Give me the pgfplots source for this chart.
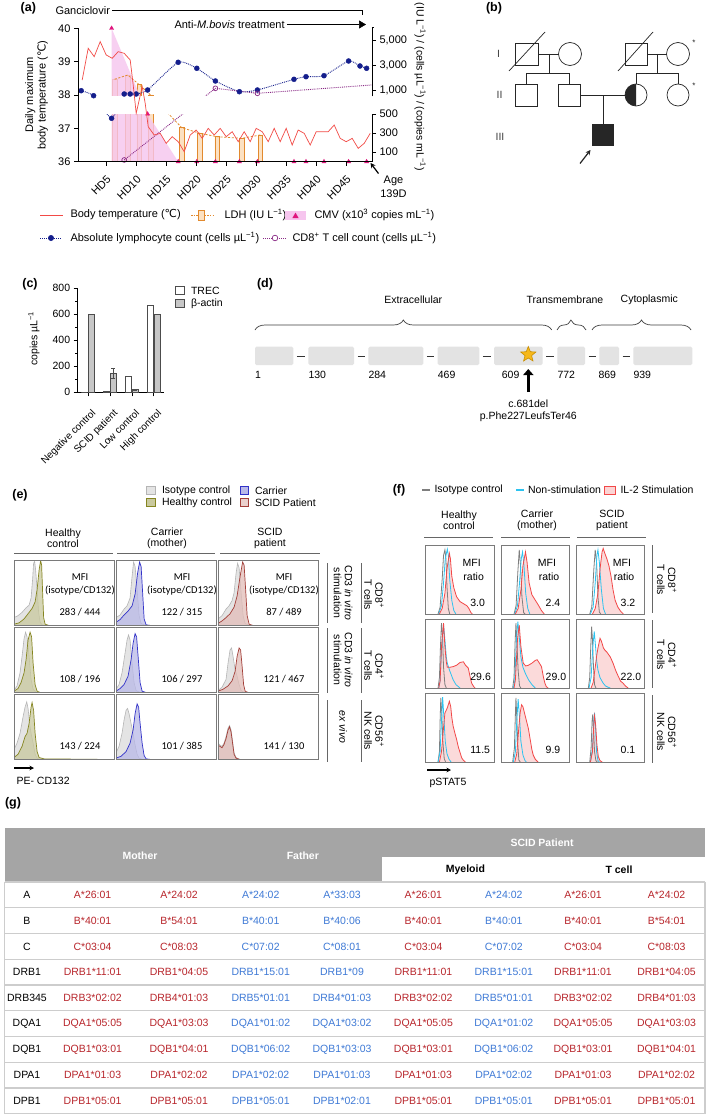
\documentclass[border=0pt]{standalone}
\usepackage{fontspec}
\setmainfont{Liberation Sans}
\newfontfamily\dejavu{DejaVu Sans}
\newfontfamily\carlito{Carlito}
\usepackage{pgfplots}
\pgfplotsset{compat=1.18}
\usetikzlibrary{decorations.pathreplacing,shapes.geometric,arrows.meta}

\definecolor{tempred}{HTML}{F24A46}
\definecolor{ldhor}{HTML}{E28A2E}
\definecolor{ldhfill}{HTML}{FCE1C2}
\definecolor{cmvpink}{HTML}{F6C5EE}
\definecolor{cmvmag}{HTML}{E0157E}
\definecolor{lymnavy}{HTML}{141E8C}
\definecolor{cdpurp}{HTML}{8A2A86}
\definecolor{isofill}{HTML}{E4E4E4}
\definecolor{isoline}{HTML}{B5B5B5}
\definecolor{olvfill}{HTML}{C9C99E}
\definecolor{olvline}{HTML}{858520}
\definecolor{carfill}{HTML}{B9B9E8}
\definecolor{carline}{HTML}{3232C8}
\definecolor{scfill}{HTML}{E2BDB8}
\definecolor{scline}{HTML}{A23E38}
\definecolor{fred}{HTML}{F24848}
\definecolor{fredfill}{HTML}{FBD4D4}
\definecolor{fcyan}{HTML}{2CC3F0}
\definecolor{fgray}{HTML}{7E7E7E}
\definecolor{boxgray}{HTML}{7A7A7A}
\definecolor{hdrgray}{HTML}{A5A5A5}
\definecolor{tred}{HTML}{B8262C}
\definecolor{tblue}{HTML}{3F7AD6}
\definecolor{rulegray}{HTML}{CDCDCD}
\definecolor{exon}{HTML}{E3E3E3}
\definecolor{stargold}{HTML}{F6B81A}
\definecolor{stardark}{HTML}{C98E00}

\newcommand\fA{\fontsize{11}{12.5}\selectfont}
\newcommand\fB{\fontsize{10.5}{11}\selectfont}
\newcommand\fT{\fontsize{10.5}{12}\selectfont}
\newcommand\fL{\bfseries\fontsize{12.5}{14}\selectfont}
\newcommand\fM{\carlito\fontsize{10.5}{12}\selectfont}
\newcommand\degC{{\dejavu ℃}}
\newcommand\inv{\textsuperscript{−1}}

\pgfplotsset{
  hbase/.style={anchor=north west, scale only axis, xmin=0, xmax=100, ymin=0, ymax=100,
     xtick=\empty, ytick=\empty, axis line style={draw=boxgray, line width=0.9pt}, axis on top, clip=true},
  ebox/.style={hbase, width=100.5pt, height=65.5pt},
  fbox/.style={hbase, width=68.6pt, height=69pt},
  isoE/.style={draw=isoline, fill=isofill, line width=0.6pt},
  hcE/.style={draw=olvline, fill=olvfill, fill opacity=0.75, line width=0.7pt},
  caE/.style={draw=carline, fill=carfill, fill opacity=0.75, line width=0.7pt},
  scE/.style={draw=scline, fill=scfill, fill opacity=0.75, line width=0.7pt},
}
\newcommand\ehist[5]{%
 \begin{axis}[ebox, at={(#1pt,-#2pt)}]
  \addplot[isoE] coordinates {#4} \closedcycle;
  \addplot[#3] coordinates {#5} \closedcycle;
 \end{axis}}
\newcommand\fhist[5]{%
 \begin{axis}[fbox, at={(#1pt,-#2pt)}]
  \addplot[draw=none, fill=fredfill, fill opacity=0.85] coordinates {#5} \closedcycle;
  \addplot[fgray, line width=0.8pt] coordinates {#3};
  \addplot[fcyan, line width=0.8pt] coordinates {#4};
  \addplot[fred, line width=0.8pt] coordinates {#5};
 \end{axis}}

\begin{document}
\begin{tikzpicture}
\useasboundingbox (0,0) rectangle (709pt,-1116pt);
\fill[white] (0,0) rectangle (709pt,-1116pt);

%================ (a) right axis =================
\begin{axis}[
  at={(78pt,-161.7pt)}, anchor=south west, scale only axis,
  width=294pt, height=133.4pt,
  xmin=0.3, xmax=49.3, ymin=0, ymax=133.4,
  axis x line=none, xtick=\empty,
  axis y line*=right, y axis line style={draw=none},
  ytick={9.54,28.62,47.7,71.7,96.7,121.7},
  yticklabels={100,300,500,{1,000},{3,000},{5,000}},
  tick align=outside, major tick length=4pt, tick style={black, line width=0.6pt},
  yticklabel style={font=\fA},
  y filter/.expression={y<=500 ? 0.0954*y : 59.2+0.0125*y},
  clip=false,
]
\addplot[ybar, bar width=4.6pt, draw=ldhor, fill=ldhfill, line width=0.6pt]
  coordinates {(6.4,1857) (8.6,2200) (10.5,1430) (12.4,600) (17.6,356) (20.6,298) (23.5,262) (27.6,245) (30.7,280)};
\addplot[draw=none, fill=cmvpink, fill opacity=0.8] coordinates {(5.9,5936) (11.9,500) (17,0)} \closedcycle;
\addplot[ldhor, line width=0.8pt, dash pattern=on 2.2pt off 1.6pt]
  coordinates {(6.4,1857) (8.6,2200) (10.5,1430) (12.4,600) (17.6,356) (20.6,298) (23.5,262) (27.6,245) (30.7,280)};
\addplot[lymnavy, line width=0.9pt, densely dotted, smooth, tension=0.35]
  coordinates {(0.83,944) (2.9,544) (5.9,455) (8,680) (9,680) (10,680) (11.9,1000) (17,3216) (20.1,2736) (23.2,1720) (27.2,864) (30.2,1000) (36.3,1856) (38.3,2064) (41.3,2144) (45.4,3320) (47.3,2920) (48.4,2736)};
\addplot[cdpurp, line width=0.9pt, densely dotted]
  coordinates {(8,18) (23.2,1136) (30.2,736) (49.2,1400)};
\fill[white] (rel axis cs:-0.003,0.3576) rectangle (rel axis cs:1,0.4906);
\addplot[only marks, mark=triangle*, mark size=2.4pt, cmvmag]
  coordinates {(5.9,5936) (11.9,500) (17,0) (20.1,0) (23.2,0) (27.2,0) (30.2,0) (36.3,0) (38.3,0) (41.3,0) (45.4,0) (48.4,0)};
\addplot[only marks, mark=*, mark size=2.5pt, lymnavy]
  coordinates {(0.83,944) (2.9,544) (5.9,455) (8,680) (9,680) (10,680) (11.9,1000) (17,3216) (20.1,2736) (23.2,1720) (27.2,864) (30.2,1000) (36.3,1856) (38.3,2064) (41.3,2144) (45.4,3320) (47.3,2920) (48.4,2736)};
\addplot[only marks, mark=o, mark size=2.4pt, cdpurp, mark options={fill=white, line width=0.7pt}]
  coordinates {(8,18) (23.2,1136) (30.2,736)};
\draw[black, line width=0.6pt] (rel axis cs:1,0) -- (rel axis cs:1,0.3576);
\draw[black, line width=0.6pt] (rel axis cs:1,0.4906) -- (rel axis cs:1,1.005) -- ++(4pt,0);
\end{axis}

%================ (a) left axis =================
\begin{axis}[
  at={(78pt,-161.7pt)}, anchor=south west, scale only axis,
  width=294pt, height=133.4pt,
  xmin=0.3, xmax=49.3, ymin=36, ymax=40,
  axis x line*=bottom, axis y line*=left,
  axis line style={line width=0.6pt},
  xtick={5,10,...,45},
  xticklabels={HD5,HD10,HD15,HD20,HD25,HD30,HD35,HD40,HD45},
  x tick label style={yshift=-9pt, rotate=45, anchor=north east, font=\fA, inner sep=0pt},
  ytick={36,37,38,39,40},
  yticklabel style={font=\fA},
  /pgf/number format/assume math mode=true,
  tick align=outside, major tick length=4pt, tick style={black, line width=0.6pt},
  clip=false,
]
\addplot[tempred, line width=0.7pt] coordinates {
 (1,38.45) (2,39.4) (3,39.15) (4,39.6) (5,39.2) (6,39.1) (7,39.3) (8,39.25) (9,39.05) (9.5,38.3)
 (10,37.45) (11,38.25) (11.5,37.75) (12,37.05) (13,36.8) (14,36.85) (15,36.55) (16,36.75) (17,36.6)
 (18,36.3) (19,36.8) (20,36.95) (21,36.7) (22,37.0) (23,36.8) (24,37.0) (25,36.75) (26,36.9)
 (27,36.6) (28,36.9) (29,36.6) (30,37.0) (31,36.9) (32,36.6) (33,37.0) (34,36.6) (35,37.0)
 (36,36.5) (37,36.95) (38,36.85) (39,36.5) (40,36.9) (41,36.9) (42,36.9) (43,37.1) (44,36.7)
 (45,36.6) (46,36.7) (47,36.4) (48,36.55) (49,36.85)};
\end{axis}

%================ (c) =================
\begin{axis}[
  at={(77.7pt,-392.3pt)}, anchor=south west, scale only axis,
  width=86.6pt, height=104pt,
  xmin=-0.47, xmax=3.48, ymin=0, ymax=800,
  axis x line*=bottom, axis y line*=left,
  axis line style={line width=0.6pt},
  ybar=0.8pt, bar width=6.3pt,
  xtick={0,1,2,3},
  xticklabels={Negative control,SCID patient,Low control,High control},
  x tick label style={xshift=3pt, yshift=-12pt, rotate=45, anchor=north east, font=\fontsize{10}{12}\selectfont, inner sep=0pt},
  ytick={0,200,400,600,800}, minor y tick num=1,
  yticklabel style={font=\fT},
  /pgf/number format/assume math mode=true,
  tick align=outside, major tick length=4pt, minor tick length=2.5pt,
  tick style={black, line width=0.6pt},
  clip=false,
]
\addplot[draw=black!70, fill=white, line width=0.6pt] coordinates {(0,0) (1,8) (2,120) (3,670)};
\addplot[draw=black!70, fill=black!22, line width=0.6pt,
  error bars/.cd, y dir=both, y explicit, error bar style={black!70, line width=0.6pt},
  error mark options={rotate=90, mark size=2pt, black!70}]
  coordinates {(0,600) +- (0,0) (1,145) +- (0,40) (2,20) +- (0,0) (3,600) +- (0,0)};
\end{axis}

%================ (e) histograms =================
\ehist{14}{560}{hcE}
 {(0,12) (4,15) (8,20) (12,27) (15,31) (17,42) (18.5,70) (19.5,95) (20.5,98) (21.5,85) (23,55) (24.5,20) (26,5) (28,1) (32,0) (100,0)}
 {(0,2) (5,4) (10,10) (14,18) (18,26) (21,36) (23,55) (25,85) (26.5,99) (27.5,92) (28.5,50) (29.5,12) (31,2) (35,0) (100,0)}
\ehist{116}{560}{caE}
 {(0,12) (4,16) (8,25) (11,30) (14,42) (16,75) (17.5,97) (19,90) (21,55) (23,15) (25,3) (30,0) (100,0)}
 {(0,5) (4,9) (8,16) (12,22) (16,30) (19,48) (21.5,80) (23.5,97) (25,90) (26.5,50) (28,10) (30,1) (35,0) (100,0)}
\ehist{218}{560}{scE}
 {(0,10) (4,15) (8,25) (11,30) (14,38) (16,50) (18,80) (19.5,95) (21,88) (23,50) (25,15) (27,3) (32,0) (100,0)}
 {(0,3) (4,7) (8,12) (12,18) (16,28) (19,45) (22,75) (24.5,97) (26,92) (27.5,55) (29,15) (31,2) (35,0) (100,0)}
\ehist{14}{627}{hcE}
 {(0,3) (3,10) (6,30) (8,55) (10,82) (11.5,92) (13,85) (15,55) (17,20) (19,5) (22,0) (100,0)}
 {(0,2) (4,6) (7,15) (10,30) (12,50) (14,80) (16,92) (17.5,85) (19,45) (21,12) (23,2) (26,0) (100,0)}
\ehist{116}{627}{caE}
 {(0,5) (3,12) (6,30) (9,60) (11,80) (12.5,88) (14,80) (16,45) (18,15) (20,3) (24,0) (100,0)}
 {(0,2) (4,6) (8,12) (12,25) (15,50) (17,75) (19,90) (20.5,85) (22,55) (24,15) (26,2) (30,0) (100,0)}
\ehist{218}{627}{scE}
 {(0,3) (4,8) (8,20) (10,45) (12,65) (13.5,68) (15,55) (17,35) (19,25) (21,12) (23,3) (26,0) (100,0)}
 {(0,2) (5,5) (10,10) (14,18) (17,32) (19,55) (21,68) (22.5,65) (24,40) (25.5,12) (27,2) (30,0) (100,0)}
\ehist{14}{694}{hcE}
 {(0,15) (3,25) (6,40) (9,65) (11,80) (12.7,88) (14,78) (15.5,55) (17,40) (19,25) (21,8) (23,2) (26,0) (100,0)}
 {(0,3) (4,8) (8,20) (11,35) (13,40) (15,55) (17,80) (18,87) (19.5,75) (21,40) (23,12) (25,3) (30,1) (100,0)}
\ehist{116}{694}{caE}
 {(0,10) (3,20) (6,40) (8,60) (10,75) (11.5,78) (13,70) (15,55) (17,40) (19,22) (21,8) (23,2) (27,0) (100,0)}
 {(0,2) (5,5) (10,12) (14,25) (17,45) (19,70) (21,85) (22.5,80) (24,55) (26,25) (28,6) (30,1) (35,0) (100,0)}
\ehist{218}{694}{scE}
 {(0,25) (2,22) (4,20) (6,25) (8,35) (10,48) (11.5,52) (13,45) (14.5,28) (16,10) (18,3) (22,0) (100,0)}
 {(0,22) (2,20) (4,18) (6,23) (8,32) (10,45) (11.5,50) (13,42) (14.5,25) (16,8) (18,2) (22,0) (100,0)}

%================ (f) histograms =================
\fhist{425.7}{545}
 {(18,0) (21,10) (24,50) (26,85) (28,93) (29.5,80) (31,40) (33,8) (35,0)}
 {(19,0) (23,12) (26,45) (28.5,80) (31.5,94) (33,85) (35,50) (38,20) (41,5) (44,0)}
 {(20,0) (24,8) (28,30) (31,65) (34.5,88) (36,80) (38,55) (41,38) (45,25) (50,18) (55,15) (60,12) (63,8) (66,2) (68,0)}
\fhist{501}{545}
 {(19,0) (22,12) (24.5,60) (26.6,93) (28.5,70) (30.5,25) (33,2) (35,0)}
 {(20,0) (24,12) (27,45) (29.5,80) (31.4,90) (33.5,70) (36,30) (39,8) (42,0)}
 {(21,0) (25,8) (29,35) (32,70) (35.7,90) (38,75) (41,45) (45,28) (50,20) (55,12) (59,5) (63,0)}
\fhist{576}{545}
 {(20,0) (23,10) (26,65) (28,93) (30,75) (32,25) (34,3) (36,0)}
 {(21,0) (25,10) (28,45) (30.5,85) (32,93) (34,75) (37,35) (40,8) (43,0)}
 {(24,0) (28,8) (32,30) (35,65) (38,90) (39.6,95) (42,88) (45,80) (48,70) (51,55) (54,35) (57,20) (61,10) (65,4) (69,0)}
\fhist{425.7}{619}
 {(18,0) (20,15) (21.5,60) (23,94) (24.5,75) (26,30) (28,5) (30,0)}
 {(19,0) (21,10) (23,55) (26,91) (28,70) (30,45) (31.5,36) (35,25) (40,12) (44,5) (47.6,2) (50,0)}
 {(19,0) (21,10) (23,60) (26,94) (28,60) (30,38) (31.5,30) (35,30) (40,31) (45,33) (50,37) (55,38) (58,33) (62,29) (65,15) (67,7) (70,2) (72,0)}
\fhist{501}{619}
 {(17,0) (19,15) (20.5,65) (21.8,94) (23,70) (25,25) (27,3) (29,0)}
 {(18,0) (20,10) (22.5,70) (24.6,96) (26.5,75) (29,45) (32,30) (36,20) (40,12) (45,5) (50,0)}
 {(19,0) (21,12) (24,70) (26.6,91) (29,60) (32.4,36) (36,32) (40,33) (45,36) (50,40) (52.7,41) (56,36) (59,31) (62,15) (64,7) (66,2) (68.6,0)}
\fhist{576}{619}
 {(18,0) (20,15) (21.5,60) (22.8,89) (24,70) (25.5,30) (27,5) (29,0)}
 {(19,0) (22,15) (24.5,60) (26.6,82) (28.5,60) (30,40) (32,26) (35,15) (39.6,7) (43,3) (47,1) (50,0)}
 {(22,0) (25,8) (28,30) (30,46) (32,58) (35,72) (37,68) (40,58) (42,55) (45,52) (50,45) (54,36) (58,25) (61.6,17) (65,10) (68.6,7) (72,3) (76,0)}
\fhist{425.7}{693}
 {(18,0) (20,15) (21,60) (22,93) (23.5,70) (25,30) (27,5) (29,0)}
 {(18,0) (21,15) (23,60) (24.7,94) (26.5,65) (28.5,30) (31,12) (34,4) (37,0)}
 {(20,0) (23,15) (26,50) (28,71) (30,75) (32,80) (34.5,88) (36.5,80) (38,65) (40,52) (42.5,42) (45,33) (47.5,22) (50,14) (52.5,6) (55,2.4) (58,0)}
\fhist{501}{693}
 {(17,0) (19.5,20) (21,70) (21.8,93) (23,65) (24.5,25) (26,3) (28,0)}
 {(18,0) (21,15) (23,60) (25,91) (27,65) (29,30) (32,10) (35,2) (37,0)}
 {(20,0) (23,12) (26,50) (28,72) (30,83) (32,80) (35,68) (38,56) (40,48) (43,30) (45,18) (47,10) (50,4) (52,2) (54,0)}
\fhist{576}{693}
 {(20,0) (22,20) (23.5,60) (24.4,69) (25.5,50) (27,15) (29,2) (31,0)}
 {(21,0) (24,20) (26,60) (27,71) (28.5,50) (30,15) (32,2) (34,0)}
 {(21,0) (24,15) (26,55) (27,67) (28.5,55) (30.5,25) (32.5,8) (35,2) (38,0)}

%================ annotations =================
\begin{scope}[x=1pt, y=-1pt]
% ---- (a)
\node[font=\fL] at (28.3,8.3) {(a)};
\node[anchor=west, font=\fA] at (52,10.5) {Ganciclovir};
\draw[line width=0.6pt] (112,10) -- (362.5,10) -- (362.5,15);
\node[anchor=west, font=\fA] at (171,24.5) {Anti-\textit{M.bovis} treatment};
\draw[line width=0.6pt, -{Triangle[length=7pt,width=8pt]}] (287,24.5) -- (366,24.5);
\node[rotate=90, align=center, font=\fA] at (36.5,95) {Daily maximum\\body temperature (\degC)};
\node[rotate=-90, font=\fT] at (420,86.7) {(IU L\inv) / (cells µL\inv) / (copies mL\inv)};
\node[align=center, font=\fontsize{11}{14}\selectfont] at (393.5,187) {Age\\139D};
\draw[line width=1.2pt, -{Stealth[length=5pt,width=5pt]}] (378.5,173.5) -- (370.5,163);
% legend (a)
\draw[tempred, line width=0.8pt] (40,215) -- (63,215);
\node[anchor=west, font=\fA] at (67,215) {Body temperature (\degC)};
\draw[ldhor, line width=0.8pt, dash pattern=on 1.5pt off 1.2pt] (191,215) -- (213,215);
\filldraw[draw=ldhor, fill=ldhfill, line width=0.7pt] (198,210.5) rectangle (204.5,220);
\node[anchor=west, font=\fA] at (221,215) {LDH (IU L\inv)};
\fill[cmvpink] (285,211) rectangle (306,220);
\fill[cmvmag] (292.3,218.2) -- (298.7,218.2) -- (295.5,212.6) -- cycle;
\node[anchor=west, font=\fA] at (311,215) {CMV (x10\textsuperscript{3} copies mL\inv)};
\draw[lymnavy, densely dotted, line width=1pt] (40,238) -- (62,238);
\fill[lymnavy] (51,238) circle[radius=3];
\node[anchor=west, font=\fA] at (67,238) {Absolute lymphocyte count (cells µL\inv)};
\draw[cdpurp, densely dotted, line width=1pt] (263,238) -- (287,238);
\filldraw[draw=cdpurp, fill=white, line width=0.7pt] (275,238) circle[radius=2.8];
\node[anchor=west, font=\fA] at (289,238) {CD8\textsuperscript{+} T cell count (cells µL\inv)};

% ---- (b) pedigree
\node[font=\fL] at (494,8) {(b)};
\begin{scope}[line width=0.7pt, black!85]
\node[font=\fB, black!75] at (498.5,53.5) {I};
\node[font=\fB, black!75] at (499.5,94.5) {II};
\node[font=\fB, black!75] at (500,136.5) {III};
\draw (515,43) rectangle (538,65);
\draw (509,71) -- (545,32);
\draw (570,54) circle[radius=11.5];
\draw (538,54) -- (558.5,54);
\draw (549,54) -- (549,73);
\draw (526,84) -- (526,73) -- (569,73) -- (569,84);
\draw (625,43) rectangle (647,65);
\draw (618,71) -- (653,32);
\draw (678,54) circle[radius=11.5];
\draw (647,54) -- (666.5,54);
\draw (657,54) -- (657,73);
\draw (636,84) -- (636,73) -- (678,73) -- (678,83.5);
\draw (515,84) rectangle (537,106);
\draw (558,84) rectangle (580,106);
\draw (580,95) -- (625,95);
\begin{scope}
\clip (620,80) rectangle (636,112);
\fill (636,95) circle[radius=11];
\end{scope}
\draw (636,95) circle[radius=11];
\draw (678,95) circle[radius=11];
\draw (603,95) -- (603,124);
\fill (592,124) rectangle (614,146);
\draw[line width=1.2pt, -{Stealth[length=5pt,width=5pt]}] (580,163.5) -- (590.5,150);
\node[font=\fontsize{8}{9}\selectfont] at (694,43) {*};
\node[font=\fontsize{8}{9}\selectfont] at (694,86) {*};
\end{scope}

% ---- (c)
\node[font=\fL] at (30,284) {(c)};
\node[rotate=90, font=\fT] at (34,338.5) {copies µL\inv};
\filldraw[fill=white, draw=black!70, line width=0.6pt] (175,286.3) rectangle (183.8,294.5);
\node[anchor=west, font=\fT] at (187.5,290.4) {TREC};
\filldraw[fill=black!22, draw=black!70, line width=0.6pt] (175,299.3) rectangle (183.8,307.5);
\node[anchor=west, font=\fT] at (187.5,303.4) {β-actin};

% ---- (d)
\node[font=\fL] at (265,284) {(d)};
\foreach \xa/\xb in {255/293.3, 308.3/354, 368.3/423.3, 437.7/479.3, 494/542.7, 557.3/585, 599.3/619, 633.3/692.3}
  \fill[exon, rounded corners=1.5pt] (\xa,346.7) rectangle (\xb,365);
\foreach \xa/\xb in {293.3/308.3, 354/368.3, 423.3/437.7, 479.3/494, 542.7/557.3, 585/599.3, 619/633.3}
  \draw[black!80, line width=0.7pt] (\xa+3.5,356) -- (\xb-3.5,356);
\foreach \xx/\lab in {255/1, 308.3/130, 368.3/284, 437.7/469, 501.7/609, 557.3/772, 598.3/869, 633.3/939}
  \node[anchor=west, font=\fT, inner sep=0pt] at (\xx,375) {\lab};
\draw[black!75, line width=0.7pt, decorate, decoration={brace, amplitude=10pt, aspect=0.5}] (255,330) -- (551.7,330);
\draw[black!75, line width=0.7pt, decorate, decoration={brace, amplitude=10pt, aspect=0.48}] (557,330) -- (586,330);
\draw[black!75, line width=0.7pt, decorate, decoration={brace, amplitude=10pt, aspect=0.5}] (592,330) -- (691,330);
\node[font=\fT] at (413.3,300) {Extracellular};
\node[font=\fT] at (565,300) {Transmembrane};
\node[font=\fT] at (649.3,300) {Cytoplasmic};
\node[star, star points=5, star point ratio=2.3, fill=stargold, draw=stardark, line width=0.6pt, minimum size=16pt, inner sep=0pt] at (528.3,354.5) {};
\draw[line width=3.2pt, -{Triangle[length=6pt,width=10pt]}] (528.3,392) -- (528.3,369);
\node[font=\fT] at (528.3,404) {c.681del};
\node[font=\fT] at (528.3,416.5) {p.Phe227LeufsTer46};

% ---- (e)
\node[font=\fL] at (20,495) {(e)};
\filldraw[fill=isofill, draw=isoline, line width=0.6pt] (146,486.5) rectangle (155,494.5);
\node[anchor=west, font=\fT] at (158.5,490.5) {Isotype control};
\filldraw[fill=carfill, draw=carline, line width=0.6pt] (240,486.5) rectangle (248.5,494.5);
\node[anchor=west, font=\fT] at (251.5,490.5) {Carrier};
\filldraw[fill=olvfill, draw=olvline, line width=0.6pt] (146,498.5) rectangle (155,506.5);
\node[anchor=west, font=\fT] at (158.5,502.5) {Healthy control};
\filldraw[fill=scfill!70, draw=scline, line width=0.6pt] (240,498.5) rectangle (248.5,506.5);
\node[anchor=west, font=\fT] at (251.5,502.5) {SCID Patient};
\node[align=center, font=\fB] at (63,538) {Healthy\\control};
\node[align=center, font=\fB] at (167,538) {Carrier\\(mother)};
\node[align=center, font=\fB] at (270,538) {SCID\\patient};
\draw[black!60, line width=0.9pt] (14,553) -- (113,553);
\draw[black!60, line width=0.9pt] (117,553) -- (215,553);
\draw[black!60, line width=0.9pt] (220,553) -- (320,553);
\foreach \bx/\pa/\pb/\pc/\pd/\pe/\pf in {14/283/444/108/196/143/224, 116/122/315/106/297/101/385, 218/87/489/121/467/141/130}{
  \node[font=\fM] at (\bx+66,577) {MFI};
  \node[font=\fM] at (\bx+66,590) {(isotype/CD132)};
  \node[font=\fM] at (\bx+66,612) {\pa{} / \pb};
  \node[font=\fM] at (\bx+66,679) {\pc{} / \pd};
  \node[font=\fM] at (\bx+66,746) {\pe{} / \pf};
}
\draw[black!60, line width=1pt] (327.3,563) -- (327.3,623);
\draw[black!60, line width=1pt] (327.3,628) -- (327.3,693);
\draw[black!60, line width=1pt] (327.3,700) -- (327.3,762);
\node[rotate=-90, align=center, font=\fB] at (343,593) {CD3 \textit{in vitro}\\stimulation};
\node[rotate=-90, align=center, font=\fB] at (343,660) {CD3 \textit{in vitro}\\stimulation};
\node[rotate=-90, font=\fB] at (343,727) {\textit{ex vivo}};
\draw[black!60, line width=1pt] (361.5,563) -- (361.5,623);
\draw[black!60, line width=1pt] (361.5,628) -- (361.5,693);
\draw[black!60, line width=1pt] (361.5,700) -- (361.5,762);
\node[rotate=-90, align=center, font=\fB] at (374,595) {CD8\textsuperscript{+}\\T cells};
\node[rotate=-90, align=center, font=\fB] at (374,666) {CD4\textsuperscript{+}\\T cells};
\node[rotate=-90, align=center, font=\fB] at (374,731) {CD56\textsuperscript{+}\\NK cells};
\draw[line width=1.3pt, -{Stealth[length=4.5pt,width=4.5pt]}] (14,768) -- (34,768);
\node[anchor=west, font=\fT] at (13,781) {PE- CD132};

% ---- (f)
\node[font=\fL] at (399,490) {(f)};
\draw[fgray, line width=2pt] (422,490) -- (430,490);
\node[anchor=west, font=\fT] at (431,490) {Isotype control};
\draw[fcyan, line width=2pt] (516,490) -- (523.5,490);
\node[anchor=west, font=\fT] at (524.5,490) {Non-stimulation};
\filldraw[fill=fredfill, draw=fred, line width=0.7pt] (604,486) rectangle (615.5,494);
\node[anchor=west, font=\fT] at (617,490) {IL-2 Stimulation};
\node[align=center, font=\fB] at (459,520.5) {Healthy\\control};
\node[align=center, font=\fB] at (537,520.5) {Carrier\\(mother)};
\node[align=center, font=\fB] at (612,520.5) {SCID\\patient};
\draw[black!60, line width=0.9pt] (424,537.7) -- (493,537.7);
\draw[black!60, line width=0.9pt] (501,537.7) -- (570,537.7);
\draw[black!60, line width=0.9pt] (577,537.7) -- (646,537.7);
\foreach \bx/\va/\vb/\vc in {425.7/3.0/29.6/11.5, 501/2.4/29.0/9.9, 576/3.2/22.0/0.1}{
  \node[font=\fT] at (\bx+46,563) {MFI};
  \node[font=\fT] at (\bx+48,577) {ratio};
  \node[anchor=west, font=\fT, inner sep=0pt] at (\bx+44.5,603) {\va};
  \node[anchor=west, font=\fT, inner sep=0pt] at (\bx+44.5,677) {\vb};
  \node[anchor=west, font=\fT, inner sep=0pt] at (\bx+44.5,750) {\vc};
}
\draw[black!60, line width=1pt] (652.7,545) -- (652.7,613);
\draw[black!60, line width=1pt] (652.7,620) -- (652.7,688);
\draw[black!60, line width=1pt] (652.7,695) -- (652.7,763);
\node[rotate=-90, align=center, font=\fB] at (666.7,580) {CD8\textsuperscript{+}\\T cells};
\node[rotate=-90, align=center, font=\fB] at (666.7,655) {CD4\textsuperscript{+}\\T cells};
\node[rotate=-90, align=center, font=\fB] at (666.7,732) {CD56\textsuperscript{+}\\NK cells};
\draw[line width=1.3pt, -{Stealth[length=4.5pt,width=4.5pt]}] (427,770) -- (451,770);
\node[anchor=west, font=\fT] at (426,783) {pSTAT5};

% ---- (g) table
\node[font=\fL] at (13,803) {(g)};
\fill[hdrgray] (4.5,828) rectangle (705,882);
\fill[white] (381.8,857) rectangle (705,882);
\node[font=\bfseries\fT, white] at (140,856) {Mother};
\node[font=\bfseries\fT, white] at (302.8,856) {Father};
\node[font=\bfseries\fT, white] at (542,843) {SCID Patient};
\node[font=\bfseries\fT] at (465.4,869.5) {Myeloid};
\node[font=\bfseries\fT] at (619,869.5) {T cell};
\foreach \i in {0,...,9}
  \draw[rulegray, line width=1.1pt] (4.5,{882+25.75*\i}) -- (705,{882+25.75*\i});
\draw[rulegray, line width=1.1pt] (4.5,882) -- (4.5,1113.5);
\draw[rulegray, line width=1.1pt] (705,882) -- (705,1113.5);
\foreach \lab/\ta/\tb/\tc/\td/\te/\tf/\tg/\th [count=\i from 0] in {
 A/A*26:01/A*24:02/A*24:02/A*33:03/A*26:01/A*24:02/A*26:01/A*24:02,
 B/B*40:01/B*54:01/B*40:01/B*40:06/B*40:01/B*40:01/B*40:01/B*54:01,
 C/C*03:04/C*08:03/C*07:02/C*08:01/C*03:04/C*07:02/C*03:04/C*08:03,
 DRB1/DRB1*11:01/DRB1*04:05/DRB1*15:01/DRB1*09/DRB1*11:01/DRB1*15:01/DRB1*11:01/DRB1*04:05,
 DRB345/DRB3*02:02/DRB4*01:03/DRB5*01:01/DRB4*01:03/DRB3*02:02/DRB5*01:01/DRB3*02:02/DRB4*01:03,
 DQA1/DQA1*05:05/DQA1*03:03/DQA1*01:02/DQA1*03:02/DQA1*05:05/DQA1*01:02/DQA1*05:05/DQA1*03:03,
 DQB1/DQB1*03:01/DQB1*04:01/DQB1*06:02/DQB1*03:03/DQB1*03:01/DQB1*06:02/DQB1*03:01/DQB1*04:01,
 DPA1/DPA1*01:03/DPA1*02:02/DPA1*02:02/DPA1*01:03/DPA1*01:03/DPA1*02:02/DPA1*01:03/DPA1*02:02,
 DPB1/DPB1*05:01/DPB1*05:01/DPB1*05:01/DPB1*02:01/DPB1*05:01/DPB1*05:01/DPB1*05:01/DPB1*05:01}{
  \pgfmathsetmacro\yy{894.9+25.75*\i}
  \node[font=\fT] at (27,\yy) {\lab};
  \node[font=\fT, text=tred] at (92.6,\yy) {\ta};
  \node[font=\fT, text=tred] at (179,\yy) {\tb};
  \node[font=\fT, text=tblue] at (260.7,\yy) {\tc};
  \node[font=\fT, text=tblue] at (342,\yy) {\td};
  \node[font=\fT, text=tred] at (423.4,\yy) {\te};
  \node[font=\fT, text=tblue] at (503.8,\yy) {\tf};
  \node[font=\fT, text=tred] at (583,\yy) {\tg};
  \node[font=\fT, text=tred] at (666.5,\yy) {\th};
}
\end{scope}
\end{tikzpicture}
\end{document}
